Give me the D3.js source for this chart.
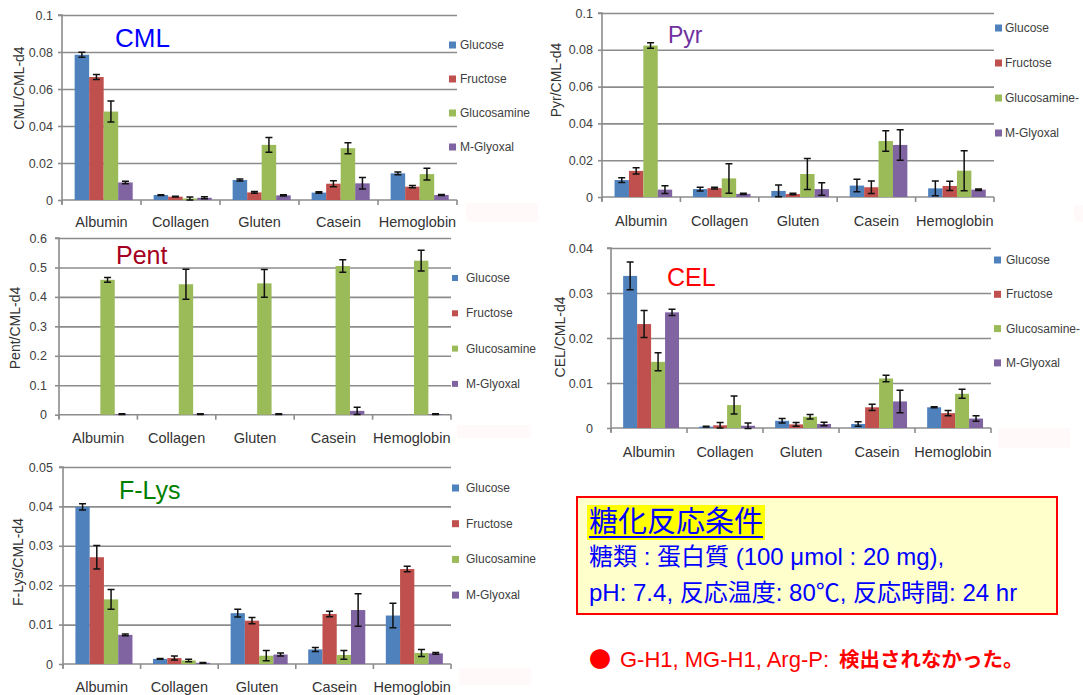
<!DOCTYPE html>
<html>
<head>
<meta charset="utf-8">
<script src="https://cdnjs.cloudflare.com/ajax/libs/d3/7.8.5/d3.min.js"></script>
<style>
  html, body { margin: 0; padding: 0; background: #fff; }
  svg { display: block; }
</style>
</head>
<body>
<svg id="chart" width="1083" height="695"></svg>
<script>
// ---- data -------------------------------------------------------------
const categories = ["Albumin", "Collagen", "Gluten", "Casein", "Hemoglobin"];
const sugars = ["Glucose", "Fructose", "Glucosamine", "M-Glyoxal"];
const sugarColors = ["#4f81bd", "#c0504d", "#9bbb59", "#8064a2"];

// rows follow `sugars`, columns follow `categories`
const cmlMean = [
  [0.0785, 0.0027, 0.0108, 0.0040, 0.0144],
  [0.0665, 0.0018, 0.0041, 0.0088, 0.0072],
  [0.0478, 0.0008, 0.0298, 0.0280, 0.0140],
  [0.0095, 0.0012, 0.0025, 0.0090, 0.0027]
];
const cmlErr = [
  [0.0013, 0.0002, 0.0005, 0.0004, 0.0007],
  [0.0014, 0.0002, 0.0005, 0.0016, 0.0006],
  [0.0057, 0.0008, 0.0040, 0.0030, 0.0032],
  [0.0007, 0.0005, 0.0003, 0.0031, 0.0003]
];

const pyrMean = [
  [0.0092, 0.0043, 0.0033, 0.0062, 0.0047],
  [0.0142, 0.0048, 0.0016, 0.0053, 0.0060],
  [0.0823, 0.0101, 0.0125, 0.0304, 0.0143],
  [0.0040, 0.0017, 0.0043, 0.0283, 0.0040]
];
const pyrErr = [
  [0.0013, 0.0010, 0.0032, 0.0034, 0.0040],
  [0.0017, 0.0005, 0.0004, 0.0034, 0.0025],
  [0.0015, 0.0080, 0.0084, 0.0056, 0.0109],
  [0.0021, 0.0004, 0.0034, 0.0083, 0.0004]
];

const pentMean = [
  [0, 0, 0, 0, 0],
  [0, 0, 0, 0, 0],
  [0.458, 0.443, 0.446, 0.505, 0.523],
  [0.002, 0.002, 0.002, 0.013, 0.002]
];
const pentErr = [
  [0, 0, 0, 0, 0],
  [0, 0, 0, 0, 0],
  [0.008, 0.051, 0.047, 0.021, 0.035],
  [0.001, 0.001, 0.001, 0.012, 0.001]
];

const celMean = [
  [0.0338, 0.0003, 0.0016, 0.0009, 0.0046],
  [0.0231, 0.0006, 0.0008, 0.0046, 0.0033],
  [0.0147, 0.0051, 0.0025, 0.0110, 0.0076],
  [0.0257, 0.0005, 0.0009, 0.0059, 0.0021]
];
const celErr = [
  [0.0031, 0.0001, 0.0005, 0.0005, 0.0001],
  [0.0030, 0.0006, 0.0004, 0.0007, 0.0006],
  [0.0020, 0.0020, 0.0005, 0.0007, 0.0010],
  [0.0007, 0.0006, 0.0004, 0.0025, 0.0006]
];

const flysMean = [
  [0.0399, 0.0013, 0.0129, 0.0037, 0.0123],
  [0.0271, 0.0015, 0.0110, 0.0127, 0.0241],
  [0.0164, 0.0009, 0.0021, 0.0023, 0.0028],
  [0.0074, 0.0003, 0.0024, 0.0137, 0.0027]
];
const flysErr = [
  [0.0008, 0.0001, 0.0010, 0.0005, 0.0031],
  [0.0030, 0.0005, 0.0008, 0.0007, 0.0007],
  [0.0025, 0.0003, 0.0013, 0.0011, 0.0009],
  [0.0002, 0.0001, 0.0004, 0.0041, 0.0002]
];

const cmlTicks = [0, 0.02, 0.04, 0.06, 0.08, 0.1];
const pyrTicks = [0, 0.02, 0.04, 0.06, 0.08, 0.1];
const pentTicks = [0, 0.1, 0.2, 0.3, 0.4, 0.5, 0.6];
const celTicks = [0, 0.01, 0.02, 0.03, 0.04];
const flysTicks = [0, 0.01, 0.02, 0.03, 0.04, 0.05];

const legendFull = ["Glucose", "Fructose", "Glucosamine", "M-Glyoxal"];
const legendCut = ["Glucose", "Fructose", "Glucosamine-", "M-Glyoxal"];

// ---- layout -----------------------------------------------------------
const panels = [
  { name: "CML", yLabel: "CML/CML-d4", mean: cmlMean, err: cmlErr, ticks: cmlTicks, legend: legendFull,
    left: 62, right: 457, top: 15, bottom: 200, tickGap: 5, catY: 227,
    legX: 449, legTextX: 460, legY0: 45, legStep: 34, sw: 7,
    yLabX: 19, yLabY: 88, titleX: 115, titleY: 47, titleSize: 26, titleColor: "#0000ff",
    blush: [466, 203, 72, 19] },
  { name: "Pyr", yLabel: "Pyr/CML-d4", mean: pyrMean, err: pyrErr, ticks: pyrTicks, legend: legendCut,
    left: 602, right: 994, top: 13, bottom: 197, tickGap: 5, catY: 226,
    legX: 995, legTextX: 1005, legY0: 28, legStep: 35, sw: 7,
    yLabX: 556, yLabY: 80, titleX: 668, titleY: 43, titleSize: 23, titleColor: "#7030a0",
    blush: [1074, 205, 9, 17] },
  { name: "Pent", yLabel: "Pent/CML-d4", mean: pentMean, err: pentErr, ticks: pentTicks, legend: legendFull,
    left: 59, right: 451, top: 238, bottom: 414.7, tickGap: 8, catY: 443,
    legX: 452, legTextX: 466, legY0: 278, legStep: 35.3, sw: 6,
    yLabX: 15, yLabY: 328, titleX: 116, titleY: 264, titleSize: 25, titleColor: "#a50021",
    blush: [457, 425, 74, 13] },
  { name: "CEL", yLabel: "CEL/CML-d4", mean: celMean, err: celErr, ticks: celTicks, legend: legendCut,
    left: 611, right: 991, top: 248, bottom: 428, tickGap: 14, catY: 457,
    legX: 994, legTextX: 1006, legY0: 260, legStep: 34.3, sw: 7,
    yLabX: 560, yLabY: 337, titleX: 667, titleY: 286, titleSize: 25, titleColor: "#ff0000",
    blush: [998, 428, 72, 20] },
  { name: "F-Lys", yLabel: "F-Lys/CML-d4", mean: flysMean, err: flysErr, ticks: flysTicks, legend: legendFull,
    left: 63, right: 451, top: 467, bottom: 664, tickGap: 6, catY: 692,
    legX: 452, legTextX: 466, legY0: 488, legStep: 35.7, sw: 7,
    yLabX: 18, yLabY: 562, titleX: 119, titleY: 499, titleSize: 25, titleColor: "#008000",
    blush: [459, 668, 72, 17] }
];

const latin = "'Liberation Sans', Arial, sans-serif";
const jp = "'Liberation Sans', Arial, 'Noto Sans CJK JP', sans-serif";
const gridColor = "#8c8c8c";
const fmt = d3.format("~g");

const svg = d3.select("#chart");

panels.forEach(p => {
  const g = svg.append("g").attr("class", "panel panel-" + p.name);

  // faint tinted patch to the right of the category labels
  g.append("rect")
    .attr("x", p.blush[0]).attr("y", p.blush[1])
    .attr("width", p.blush[2]).attr("height", p.blush[3])
    .attr("fill", "#fff9f9");

  const yMax = p.ticks[p.ticks.length - 1];
  const y = d3.scaleLinear().domain([0, yMax]).range([p.bottom, p.top]);
  const x0 = d3.scaleBand().domain(categories).range([p.left, p.right]).padding(0);
  const bw = x0.bandwidth();
  const x1 = d3.scaleBand().domain(sugars).range([bw * 0.16, bw * 0.895]).padding(0);

  // horizontal gridlines
  g.append("g")
    .attr("transform", `translate(${p.left},0)`)
    .call(d3.axisLeft(y).tickValues(p.ticks.filter(t => t > 0)).tickSize(-(p.right - p.left)).tickFormat(""))
    .call(a => a.select(".domain").remove())
    .call(a => a.selectAll(".tick line").attr("stroke", gridColor).attr("stroke-width", 1.6));

  // y axis with labels
  g.append("g")
    .attr("transform", `translate(${p.left},0)`)
    .call(d3.axisLeft(y).tickValues(p.ticks).tickSize(4).tickPadding(p.tickGap).tickFormat(fmt))
    .call(a => a.select(".domain").attr("stroke", gridColor).attr("stroke-width", 1.6)
      .attr("d", `M-4,${p.top}H0V${p.bottom + 4}`))
    .call(a => a.selectAll(".tick line").attr("stroke", gridColor).attr("stroke-width", 1.6))
    .call(a => a.selectAll(".tick text").attr("fill", "#404040")
      .style("font-family", latin).style("font-size", "12.5px"));

  // x axis line and category separators
  g.append("line")
    .attr("x1", p.left).attr("x2", p.right)
    .attr("y1", y(0)).attr("y2", y(0))
    .attr("stroke", gridColor).attr("stroke-width", 1.6);
  g.append("g").selectAll("line")
    .data(categories.concat(["end"]))
    .join("line")
    .attr("x1", d => d === "end" ? p.right : x0(d))
    .attr("x2", d => d === "end" ? p.right : x0(d))
    .attr("y1", y(0)).attr("y2", y(0) + 5)
    .attr("stroke", gridColor).attr("stroke-width", 1.6);

  // category labels
  g.append("g").selectAll("text")
    .data(categories)
    .join("text")
    .attr("x", d => x0(d) + bw / 2)
    .attr("y", p.catY)
    .attr("text-anchor", "middle")
    .attr("fill", "#333")
    .style("font-family", latin).style("font-size", "14.5px")
    .text(d => d);

  // bars
  const cells = [];
  sugars.forEach((s, i) => categories.forEach((c, j) => {
    cells.push({ s, i, c, v: p.mean[i][j], e: p.err[i][j] });
  }));

  g.append("g").selectAll("rect")
    .data(cells)
    .join("rect")
    .attr("x", d => x0(d.c) + x1(d.s))
    .attr("y", d => y(d.v))
    .attr("width", x1.bandwidth())
    .attr("height", d => y(0) - y(d.v))
    .attr("fill", d => sugarColors[d.i]);

  // error bars
  const eb = g.append("g").attr("stroke", "#111").attr("stroke-width", 1.5).attr("fill", "none");
  const ebCells = cells.filter(d => d.e > 0);
  const cx = d => x0(d.c) + x1(d.s) + x1.bandwidth() / 2;
  eb.selectAll("path")
    .data(ebCells)
    .join("path")
    .attr("d", d => {
      const xc = cx(d), y1 = y(d.v + d.e), y2 = y(d.v - d.e);
      return `M${xc},${y1}V${y2}M${xc - 3.5},${y1}H${xc + 3.5}M${xc - 3.5},${y2}H${xc + 3.5}`;
    });

  // legend
  const lg = g.append("g");
  p.legend.forEach((lab, i) => {
    const ly = p.legY0 + i * p.legStep;
    lg.append("rect")
      .attr("x", p.legX).attr("y", ly - p.sw / 2)
      .attr("width", p.sw).attr("height", p.sw)
      .attr("fill", sugarColors[i]);
    lg.append("text")
      .attr("x", p.legTextX).attr("y", ly)
      .attr("dominant-baseline", "central")
      .attr("fill", "#404040")
      .style("font-family", latin).style("font-size", "12px")
      .text(lab);
  });

  // y axis title
  g.append("text")
    .attr("transform", `translate(${p.yLabX},${p.yLabY}) rotate(-90)`)
    .attr("text-anchor", "middle")
    .attr("dominant-baseline", "central")
    .attr("fill", "#333")
    .style("font-family", latin).style("font-size", "14px")
    .text(p.yLabel);

  // panel title
  g.append("text")
    .attr("x", p.titleX).attr("y", p.titleY)
    .attr("fill", p.titleColor)
    .style("font-family", latin).style("font-size", p.titleSize + "px")
    .text(p.name);
});

// ---- reaction conditions note ----------------------------------------
const note = svg.append("g").attr("class", "note");
note.append("rect")
  .attr("x", 577).attr("y", 497).attr("width", 480).attr("height", 117)
  .attr("fill", "#ffffcc").attr("stroke", "#ff0000").attr("stroke-width", 2);

const head = note.append("text")
  .attr("x", 589).attr("y", 532)
  .attr("fill", "#0000ff")
  .style("font-family", jp).style("font-size", "29px")
  .text("糖化反応条件");
const hw = head.node().getComputedTextLength();
note.insert("rect", "text")
  .attr("x", 587).attr("y", 505).attr("width", hw + 4).attr("height", 35)
  .attr("fill", "#ffff00");
note.append("line")
  .attr("x1", 589).attr("x2", 589 + hw)
  .attr("y1", 537).attr("y2", 537)
  .attr("stroke", "#0000ff").attr("stroke-width", 2);

note.append("text")
  .attr("x", 589).attr("y", 565)
  .attr("fill", "#0000ff")
  .style("font-family", jp).style("font-size", "24px")
  .text("糖類 : 蛋白質 (100 μmol : 20 mg),");
note.append("text")
  .attr("x", 589).attr("y", 601)
  .attr("fill", "#0000ff")
  .style("font-family", jp).style("font-size", "24px")
  .text("pH: 7.4, 反応温度: 80℃, 反応時間: 24 hr");

const foot = note.append("text")
  .attr("y", 667)
  .attr("fill", "#ff0000")
  .style("font-family", jp).style("font-size", "22px");
foot.append("tspan").attr("x", 589)
  .style("font-family", "'Noto Sans CJK JP', sans-serif").style("font-size", "22px")
  .text("●");
foot.append("tspan").attr("x", 620).text("G-H1, MG-H1, Arg-P:");
foot.append("tspan").attr("x", 839).attr("font-weight", "bold").style("font-size", "20.5px").text("検出されなかった。");
</script>
</body>
</html>
